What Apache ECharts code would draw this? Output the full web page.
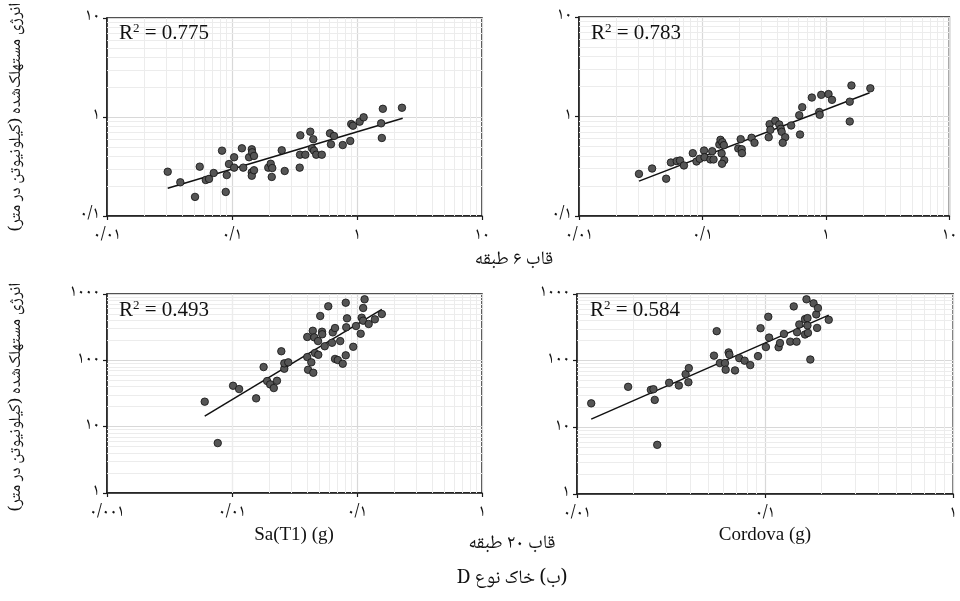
<!DOCTYPE html>
<html><head><meta charset="utf-8">
<script src="https://cdn.jsdelivr.net/npm/echarts@6/dist/echarts.min.js"></script>
<style>html,body{margin:0;padding:0;background:#fff}#c{width:960px;height:601px}</style>
</head><body><div id="c"></div>
<script>
// ---- data ----
const TL_X = [0.0306,0.0386,0.0506,0.0552,0.0617,0.0655,0.0714,0.0832,0.0891,0.0908,0.0946,0.104,0.104,0.120,0.123,0.137,0.144,0.145,0.150,0.144,0.144,0.150,0.195,0.204,0.210,0.208,0.250,0.264,0.348,0.352,0.350,0.386,0.423,0.447,0.437,0.453,0.472,0.523,0.608,0.655,0.619,0.769,0.883,0.899,0.929,1.05,1.13,1.56,1.58,1.61,2.29];
const TL_Y = [0.280,0.219,0.156,0.315,0.231,0.237,0.272,0.457,0.175,0.259,0.335,0.392,0.308,0.483,0.308,0.392,0.472,0.440,0.404,0.276,0.255,0.290,0.308,0.337,0.305,0.248,0.461,0.285,0.308,0.653,0.416,0.416,0.711,0.596,0.483,0.457,0.416,0.416,0.684,0.643,0.530,0.521,0.573,0.849,0.817,0.897,0.993,0.863,0.614,1.21,1.24];
const TR_X = [0.0306,0.0391,0.0508,0.0555,0.0619,0.0658,0.0708,0.0835,0.0895,0.0951,0.103,0.104,0.116,0.120,0.123,0.137,0.140,0.145,0.149,0.143,0.150,0.144,0.195,0.204,0.208,0.209,0.250,0.264,0.344,0.350,0.355,0.389,0.419,0.431,0.438,0.468,0.447,0.523,0.608,0.643,0.617,0.769,0.883,0.891,0.916,1.05,1.12,1.56,1.61,1.56,2.29];
const TR_Y = [0.265,0.300,0.237,0.345,0.356,0.361,0.322,0.428,0.353,0.376,0.455,0.390,0.370,0.448,0.370,0.523,0.583,0.552,0.515,0.425,0.364,0.335,0.477,0.592,0.469,0.428,0.611,0.544,0.619,0.837,0.735,0.906,0.831,0.752,0.702,0.619,0.544,0.812,1.03,1.24,0.659,1.55,1.11,1.04,1.65,1.68,1.47,1.41,2.05,0.891,1.92];
const BL_X = [0.00605,0.00769,0.0102,0.0114,0.0156,0.0179,0.0191,0.0202,0.0216,0.0229,0.0248,0.0262,0.0262,0.0282,0.0400,0.0400,0.0406,0.0431,0.0447,0.0443,0.0455,0.0488,0.0461,0.0490,0.0508,0.0525,0.0527,0.0552,0.0589,0.0631,0.0640,0.0667,0.0667,0.0702,0.0734,0.0769,0.0813,0.0832,0.0820,0.0813,0.0933,0.0982,0.107,0.109,0.112,0.115,0.112,0.124,0.139,0.158];
const BL_Y = [23.8,5.66,41.4,36.9,26.7,79.2,48.7,43.4,38.2,49.2,137,74.7,90.1,93.3,225,112,72.1,93.3,65.0,279,222,195,129,121,466,270,247,163,652,184,264,307,105,101,195,88.9,739,430,315,119,160,329,252,439,615,832,396,353,415,499];
const BR_X = [0.0119,0.0187,0.0247,0.0255,0.0259,0.0267,0.0309,0.0348,0.0378,0.0393,0.0391,0.0535,0.0553,0.0575,0.0612,0.0617,0.0640,0.0646,0.0692,0.0729,0.0778,0.0834,0.0917,0.0946,0.101,0.104,0.105,0.118,0.120,0.126,0.136,0.142,0.147,0.148,0.152,0.163,0.166,0.168,0.168,0.163,0.169,0.174,0.181,0.187,0.189,0.191,0.218];
const BR_Y = [22.9,40.5,36.5,37.3,25.8,5.46,46.6,42.4,62.8,77.3,47.5,119,277,92.0,92.0,73.1,133,123,71.4,109,100,85.8,117,307,160,455,222,159,184,252,193,652,193,267,349,420,832,435,337,247,261,104,724,494,310,615,410];
// fitted regression lines: [x, y] end points
const TL_FIT = [[0.0306,0.1905],[2.32,0.970]];
const TR_FIT = [[0.0306,0.224],[2.26,1.73]];
const BL_FIT = [[0.00605,14.4],[0.158,588]];
const BR_FIT = [[0.0119,13.3],[0.218,482]];
const R2_VALUES = ['0.775','0.783','0.493','0.584'];
// axis ranges
const X_RANGES = [[0.01,10],[0.01,10],[0.001,1],[0.01,1]];
const Y_RANGES = [[0.1,10],[0.1,10],[1,1000],[1,1000]];
// tick labels (Persian digits), keyed by power of ten
const TICK_LABELS = {'-3':'۰/۰۰۱','-2':'۰/۰۱','-1':'۰/۱','0':'۱','1':'۱۰','2':'۱۰۰','3':'۱۰۰۰'};
const RLE = '\u202B', PDF = '\u202C';
const TITLE_6 = 'قاب ۶ طبقه';
const TITLE_20 = 'قاب ۲۰ طبقه';
const CAPTION = '(ب) خاک نوع D';
const Y_TITLE = 'انرژی مستهلک\u200Cشده (کیلونیوتن در متر)';
const X_TITLES = ['Sa(T1) (g)','Cordova (g)'];

const FA = "'Noto Naskh Arabic','DejaVu Sans',sans-serif";
const SERIF = "'Liberation Serif','Times New Roman',serif";

const GRIDS = [
  {left:107, top:18, width:375, height:198},
  {left:579, top:17, width:375, height:199},
  {left:107, top:294, width:375, height:199},
  {left:577, top:294, width:377, height:200}
];
const XS = [TL_X,TR_X,BL_X,BR_X], YS=[TL_Y,TR_Y,BL_Y,BR_Y], FITS=[TL_FIT,TR_FIT,BL_FIT,BR_FIT];

function minorVals(min,max){
  const out=[]; const a=Math.round(Math.log10(min)), b=Math.round(Math.log10(max));
  for(let e=a;e<b;e++) for(let m=2;m<=9;m++) out.push(m*Math.pow(10,e));
  return out;
}
function fmt(v){ const k=Math.round(Math.log10(v)); return TICK_LABELS[String(k)]||''; }

const grid=[], xAxis=[], yAxis=[], series=[];
for(let i=0;i<4;i++){
  grid.push(Object.assign({show:true, borderColor:'#1a1a1a', borderWidth:1.5, backgroundColor:'#fff', z:0}, GRIDS[i]));
  const axBase = (range)=>({
    type:'log', logBase:10, min:range[0], max:range[1], gridIndex:i,
    axisLine:{show:true, lineStyle:{color:'#1a1a1a', width:1.5}},
    axisTick:{show:true, length:4, inside:false, lineStyle:{color:'#1a1a1a', width:1.2}},
    minorTick:{show:false},
    splitLine:{show:true, lineStyle:{color:'#d8d8d8', width:1.2}},
    axisLabel:{formatter:fmt, fontFamily:FA, fontSize:17, color:'#111', showMinLabel:true, showMaxLabel:true},
  });
  const xa = axBase(X_RANGES[i]); xa.axisLabel.margin = 12;
  const ya = axBase(Y_RANGES[i]); ya.axisLabel.margin = 7;
  xAxis.push(xa); yAxis.push(ya);
  // minor (2..9) grid lines
  const ml = minorVals(X_RANGES[i][0],X_RANGES[i][1]).map(v=>({xAxis:v}))
    .concat(minorVals(Y_RANGES[i][0],Y_RANGES[i][1]).map(v=>({yAxis:v})));
  series.push({type:'line', xAxisIndex:i, yAxisIndex:i, data:[], z:1, silent:true,
    markLine:{z:1, silent:true, symbol:['none','none'], label:{show:false}, animation:false,
      lineStyle:{color:'#ececec', width:1, type:'solid'}, emphasis:{disabled:true}, data:ml}});
  series.push({type:'line', xAxisIndex:i, yAxisIndex:i, data:FITS[i], z:4, symbol:'none', silent:true,
    lineStyle:{color:'#111', width:1.5}});
  series.push({type:'scatter', xAxisIndex:i, yAxisIndex:i, z:5, symbolSize:7.5, silent:true,
    data:XS[i].map((x,j)=>[x,YS[i][j]]),
    itemStyle:{color:'#555', borderColor:'#111', borderWidth:0.8, opacity:1}});
}

const graphic=[];
const r2pos=[[119,33],[591,33],[119,310],[590,310]];
for(let i=0;i<4;i++){
  graphic.push({type:'text', x:r2pos[i][0], y:r2pos[i][1], z:10,
    style:{text:'{a|R}{s|2}{a| = '+R2_VALUES[i]+'}', fill:'#111', align:'left', verticalAlign:'middle',
      rich:{a:{fontFamily:SERIF, fontSize:21, lineHeight:22, fill:'#111', verticalAlign:'bottom'},
            s:{fontFamily:SERIF, fontSize:13, lineHeight:13, fill:'#111', verticalAlign:'top'}}}});
}
function ctext(t,x,y,font,rot){
  return {type:'text', x:x, y:y, rotation:rot||0, z:10,
    style:{text:t, font:font, fill:'#111', align:'center', verticalAlign:'middle', textAlign:'center', textVerticalAlign:'middle'}};
}
graphic.push(ctext(RLE+TITLE_6+PDF, 514, 262, '19px '+FA));
graphic.push(ctext(RLE+TITLE_20+PDF, 512, 546, '19px '+FA));
graphic.push(ctext(RLE+CAPTION+PDF, 512, 581, '19px '+FA));
graphic.push(ctext(X_TITLES[0], 294, 535, '19px '+SERIF));
graphic.push(ctext(X_TITLES[1], 765, 535, '19px '+SERIF));
graphic.push(ctext(RLE+Y_TITLE+PDF, 18, 117, '17px '+FA, Math.PI/2));
graphic.push(ctext(RLE+Y_TITLE+PDF, 18, 397, '17px '+FA, Math.PI/2));

const chart = echarts.init(document.getElementById('c'), null, {renderer:'canvas'});
chart.setOption({animation:false, backgroundColor:'#fff', grid, xAxis, yAxis, series, graphic});
</script></body></html>
